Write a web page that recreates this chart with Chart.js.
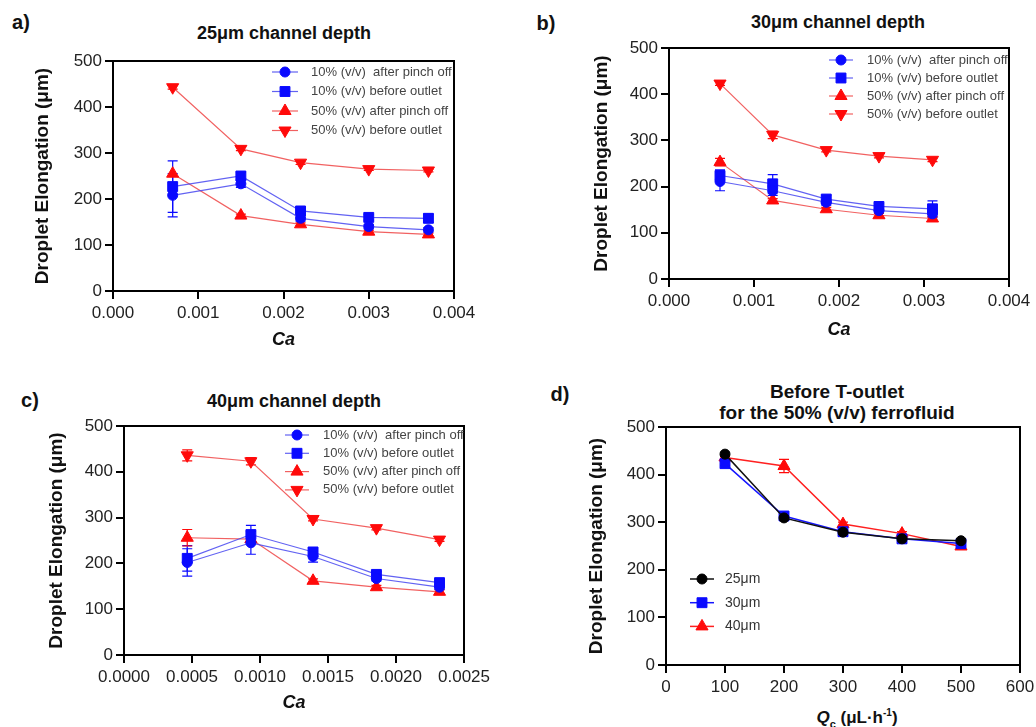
<!DOCTYPE html>
<html><head><meta charset="utf-8">
<script src="https://cdn.jsdelivr.net/npm/chart.js@4.4.1/dist/chart.umd.min.js"></script>
<style>
body{margin:0;background:#fff;width:1036px;height:727px;overflow:hidden;position:relative;font-family:"Liberation Sans",Arial,sans-serif}
.pane{position:absolute}
.pane canvas{display:block}
.lbl{position:absolute;font-weight:bold;color:#111;white-space:nowrap;transform:translate(-50%,-50%);line-height:1}
</style></head><body>
<div class="lbl" style="left:21px;top:22px;font-size:20px">a)</div>
<div class="lbl" style="left:284px;top:33px;font-size:18px">25μm channel depth</div>
<div class="lbl" style="left:546px;top:23px;font-size:20px">b)</div>
<div class="lbl" style="left:838px;top:22px;font-size:18px">30μm channel depth</div>
<div class="lbl" style="left:30px;top:400px;font-size:20px">c)</div>
<div class="lbl" style="left:294px;top:401px;font-size:18px">40μm channel depth</div>
<div class="lbl" style="left:560px;top:394px;font-size:20px">d)</div>
<div class="lbl" style="left:837px;top:391px;font-size:19px">Before T-outlet</div>
<div class="lbl" style="left:837px;top:412px;font-size:19px">for the 50% (v/v) ferrofluid</div>
<div class="lbl" style="left:857px;top:719px;font-size:17px"><i>Q</i><sub style="font-size:11px">c</sub> (μL·h<sup style="font-size:10px">-1</sup>)</div>

<div class="pane" style="left:0;top:0"><canvas id="ca" width="510" height="360"></canvas></div>
<div class="pane" style="left:520px;top:0"><canvas id="cb" width="516" height="360"></canvas></div>
<div class="pane" style="left:0;top:365px"><canvas id="cc" width="510" height="362"></canvas></div>
<div class="pane" style="left:540px;top:365px"><canvas id="cd" width="496" height="362"></canvas></div>

<script>
// ---------- DATA ----------
const seriesLabels = ['10% (v/v)  after pinch off', '10% (v/v) before outlet', '50% (v/v) after pinch off', '50% (v/v) before outlet'];
const depthLabels = ['25\u03bcm', '30\u03bcm', '40\u03bcm'];

// Panel a: 25 um
const caA = [0.0007, 0.0015, 0.0022, 0.0030, 0.0037];
const a10Pinch = [208, 233, 158, 140, 133];
const a10Outlet = [227, 250, 174, 160, 158];
const a50Pinch = [255, 164, 145, 129, 123];
const a50Outlet = [443, 309, 279, 265, 262];
const a10PinchErr = [47, 8, 6, 5, 5];
const a10OutletErr = [56, 8, 7, 6, 9];
const a50PinchErr = [0, 3, 3, 3, 3];
const a50OutletErr = [4, 4, 4, 3, 3];

// Panel b: 30 um
const caB = [0.0006, 0.00122, 0.00185, 0.00247, 0.0031];
const b10Pinch = [211, 191, 166, 148, 141];
const b10Outlet = [224, 206, 173, 157, 152];
const b50Pinch = [253, 170, 151, 138, 131];
const b50Outlet = [423, 312, 279, 266, 258];
const b10PinchErr = [20, 10, 6, 5, 8];
const b10OutletErr = [12, 20, 8, 6, 17];
const b50PinchErr = [8, 4, 4, 4, 4];
const b50OutletErr = [4, 8, 4, 4, 4];

// Panel c: 40 um
const caC = [0.000465, 0.000933, 0.00139, 0.001856, 0.00232];
const c10Pinch = [202, 245, 215, 167, 148];
const c10Outlet = [211, 263, 225, 176, 158];
const c50Pinch = [256, 253, 162, 148, 138];
const c50Outlet = [436, 423, 297, 277, 252];
const c10PinchErr = [30, 25, 12, 5, 5];
const c10OutletErr = [28, 20, 8, 6, 5];
const c50PinchErr = [18, 5, 4, 4, 4];
const c50OutletErr = [12, 8, 4, 4, 4];

// Panel d: before T-outlet, 50% ferrofluid
const qc = [100, 200, 300, 400, 500];
const d25 = [443, 309, 279, 265, 261];
const d30 = [423, 313, 280, 265, 255];
const d40 = [436, 418, 296, 276, 249];
const d25Err = [4, 4, 4, 4, 4];
const d30Err = [4, 4, 4, 4, 4];
const d40Err = [4, 14, 4, 4, 4];

// ---------- STYLES ----------
const BLUE = '#0a0aff', RED = '#ff0a0a';
const BLUE_LINE = 'rgba(70,70,240,0.85)', RED_LINE = 'rgba(240,80,80,0.9)';
const FONT = '"Liberation Sans", Arial, sans-serif';

function pts(xs, ys) { return xs.map((x, i) => ({ x: x, y: ys[i] })); }

function ds(label, xs, ys, err, kind, color, line, lw) {
  const style = { circle: ['circle', 5, 0], rect: ['rect', 7, 0], up: ['triangle', 7, 0], down: ['triangle', 7, 180] }[kind];
  return {
    label: label, data: pts(xs, ys), err: err, errColor: color,
    showLine: true, borderColor: line, borderWidth: lw, tension: 0,
    pointStyle: style[0], pointRadius: style[1], pointRotation: style[2],
    pointBackgroundColor: color, pointBorderColor: color, pointBorderWidth: 1
  };
}

const errorBars = {
  id: 'errorBars',
  beforeDatasetsDraw(chart) {
    const ctx = chart.ctx, x = chart.scales.x, y = chart.scales.y;
    chart.data.datasets.forEach(d => {
      if (!d.err) return;
      ctx.save(); ctx.strokeStyle = d.errColor; ctx.lineWidth = 1.2;
      d.data.forEach((p, i) => {
        const e = d.err[i]; if (!e) return;
        const px = x.getPixelForValue(p.x), y1 = y.getPixelForValue(p.y + e), y2 = y.getPixelForValue(p.y - e);
        ctx.beginPath();
        ctx.moveTo(px, y1); ctx.lineTo(px, y2);
        ctx.moveTo(px - 5, y1); ctx.lineTo(px + 5, y1);
        ctx.moveTo(px - 5, y2); ctx.lineTo(px + 5, y2);
        ctx.stroke();
      });
      ctx.restore();
    });
  }
};

const frame = {
  id: 'frame',
  beforeDatasetsDraw(chart) {
    const a = chart.chartArea, ctx = chart.ctx;
    ctx.save(); ctx.strokeStyle = '#000'; ctx.lineWidth = 2;
    ctx.strokeRect(a.left, a.top, a.right - a.left, a.bottom - a.top);
    ctx.restore();
  }
};

const customLegend = {
  id: 'customLegend',
  afterDraw(chart, args, o) {
    const ctx = chart.ctx;
    chart.data.datasets.forEach((d, i) => {
      const y = o.y + i * o.dy;
      ctx.save();
      ctx.strokeStyle = d.borderColor; ctx.lineWidth = d.borderWidth;
      ctx.beginPath(); ctx.moveTo(o.x - o.half, y); ctx.lineTo(o.x + o.half, y); ctx.stroke();
      ctx.fillStyle = d.pointBackgroundColor; ctx.strokeStyle = d.pointBorderColor; ctx.lineWidth = 1;
      Chart.helpers.drawPoint(ctx, { pointStyle: d.pointStyle, radius: d.pointRadius, rotation: d.pointRotation, borderWidth: 1 }, o.x, y);
      ctx.fillStyle = o.color; ctx.font = o.size + 'px ' + FONT;
      ctx.textBaseline = 'middle'; ctx.textAlign = 'left';
      ctx.fillText(d.label, o.textX, y);
      ctx.restore();
    });
  }
};

function makeChart(id, cfg) {
  const xAxis = {
    type: 'linear', min: cfg.xmin, max: cfg.xmax,
    ticks: { stepSize: cfg.xstep, autoSkip: false, maxRotation: 0, padding: 4, color: '#222',
      font: { family: FONT, size: 17 }, callback: v => v.toFixed(cfg.xdec) },
    grid: { display: true, drawOnChartArea: false, drawTicks: true, tickLength: 8, color: '#000', lineWidth: 2 },
    border: { display: true, color: '#000', width: 2 },
    title: { display: !!cfg.xtitle, text: cfg.xtitle || '', color: '#111',
      font: { family: FONT, size: 18, weight: 'bold', style: 'italic' }, padding: { top: 0, bottom: cfg.xtitlePad || 0 } },
    afterFit(s) { s.height = cfg.xh; s.paddingLeft = 0; s.paddingRight = 0; }
  };
  const yAxis = {
    type: 'linear', min: 0, max: 500,
    ticks: { stepSize: 100, padding: 3, color: '#222', font: { family: FONT, size: 17 } },
    grid: { display: true, drawOnChartArea: false, drawTicks: true, tickLength: 8, color: '#000', lineWidth: 2 },
    border: { display: true, color: '#000', width: 2 },
    title: { display: true, text: 'Droplet Elongation (\u03bcm)', color: '#111',
      font: { family: FONT, size: 19, weight: 'bold' }, padding: { top: cfg.ytitlePad, bottom: 0 } },
    afterFit(s) { s.width = cfg.yw; s.paddingTop = 0; s.paddingBottom = 0; }
  };
  return new Chart(document.getElementById(id), {
    type: 'scatter',
    data: { datasets: cfg.datasets },
    options: {
      responsive: false, animation: false, devicePixelRatio: 1,
      layout: { padding: { left: 0, top: cfg.pt, right: cfg.pr, bottom: 0 } },
      scales: { x: xAxis, y: yAxis },
      plugins: { legend: { display: false }, tooltip: { enabled: false }, title: { display: false },
        customLegend: cfg.legend }
    },
    plugins: [frame, errorBars, customLegend]
  });
}

// Panel a
makeChart('ca', {
  xmin: 0, xmax: 0.004, xstep: 0.001, xdec: 3, xtitle: 'Ca', xtitlePad: 9,
  xh: 69, yw: 113, pt: 61, pr: 56, ytitlePad: 31.5,
  legend: { x: 285, y: 72, dy: 19.5, half: 13, textX: 311, size: 13, color: '#444' },
  datasets: [
    ds(seriesLabels[0], caA, a10Pinch, a10PinchErr, 'circle', BLUE, BLUE_LINE, 1.2),
    ds(seriesLabels[1], caA, a10Outlet, a10OutletErr, 'rect', BLUE, BLUE_LINE, 1.2),
    ds(seriesLabels[2], caA, a50Pinch, a50PinchErr, 'up', RED, RED_LINE, 1.2),
    ds(seriesLabels[3], caA, a50Outlet, a50OutletErr, 'down', RED, RED_LINE, 1.2)
  ]
});

// Panel b
makeChart('cb', {
  xmin: 0, xmax: 0.004, xstep: 0.001, xdec: 3, xtitle: 'Ca', xtitlePad: 19,
  xh: 81, yw: 149, pt: 48, pr: 27, ytitlePad: 70,
  legend: { x: 321, y: 60, dy: 18, half: 12, textX: 347, size: 13, color: '#444' },
  datasets: [
    ds(seriesLabels[0], caB, b10Pinch, b10PinchErr, 'circle', BLUE, BLUE_LINE, 1.2),
    ds(seriesLabels[1], caB, b10Outlet, b10OutletErr, 'rect', BLUE, BLUE_LINE, 1.2),
    ds(seriesLabels[2], caB, b50Pinch, b50PinchErr, 'up', RED, RED_LINE, 1.2),
    ds(seriesLabels[3], caB, b50Outlet, b50OutletErr, 'down', RED, RED_LINE, 1.2)
  ]
});

// Panel c
makeChart('cc', {
  xmin: 0, xmax: 0.0025, xstep: 0.0005, xdec: 4, xtitle: 'Ca', xtitlePad: 13,
  xh: 72, yw: 124, pt: 61, pr: 46, ytitlePad: 45,
  legend: { x: 297, y: 70, dy: 18.3, half: 12, textX: 323, size: 13, color: '#444' },
  datasets: [
    ds(seriesLabels[0], caC, c10Pinch, c10PinchErr, 'circle', BLUE, BLUE_LINE, 1.2),
    ds(seriesLabels[1], caC, c10Outlet, c10OutletErr, 'rect', BLUE, BLUE_LINE, 1.2),
    ds(seriesLabels[2], caC, c50Pinch, c50PinchErr, 'up', RED, RED_LINE, 1.2),
    ds(seriesLabels[3], caC, c50Outlet, c50OutletErr, 'down', RED, RED_LINE, 1.2)
  ]
});

// Panel d
makeChart('cd', {
  xmin: 0, xmax: 600, xstep: 100, xdec: 0, xtitle: '', xtitlePad: 0,
  xh: 62, yw: 126, pt: 62, pr: 16, ytitlePad: 45,
  legend: { x: 162, y: 214, dy: 23.7, half: 12, textX: 185, size: 14, color: '#333' },
  datasets: [
    ds(depthLabels[0], qc, d25, d25Err, 'circle', '#000', '#111', 1.5),
    ds(depthLabels[1], qc, d30, d30Err, 'rect', BLUE, '#1515ff', 1.5),
    ds(depthLabels[2], qc, d40, d40Err, 'up', RED, '#ff2020', 1.5)
  ]
});
</script>
</body></html>
